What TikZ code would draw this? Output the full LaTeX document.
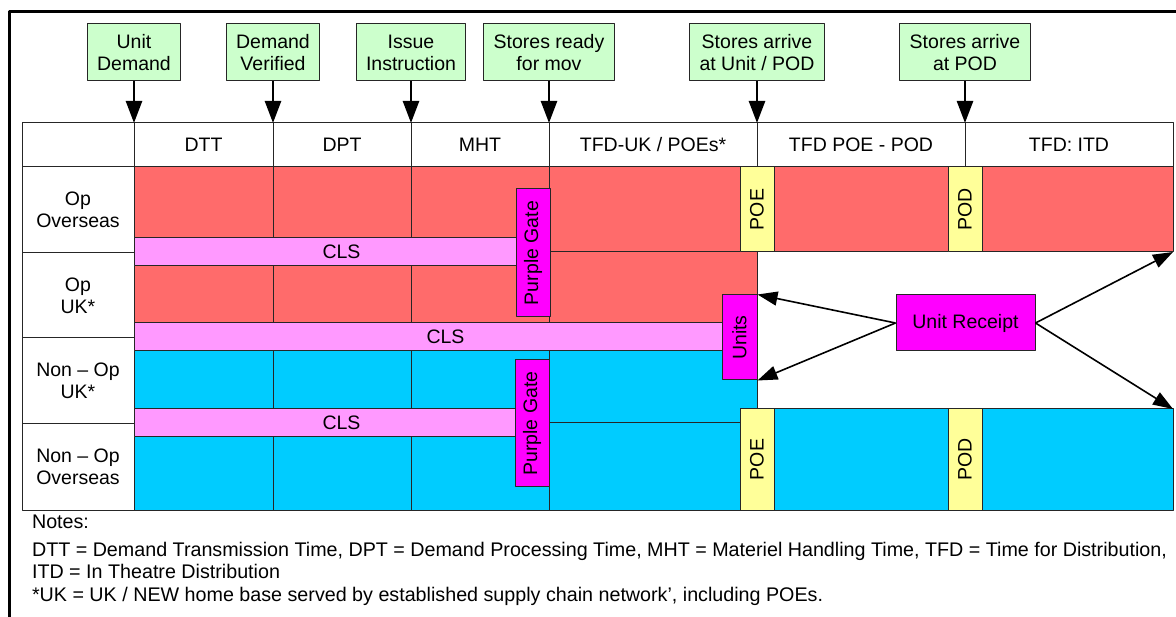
\documentclass[tikz,border=0pt]{standalone}
\usepackage{fontspec}
\setmainfont{Liberation Sans}
\usetikzlibrary{arrows.meta}
\definecolor{opred}{HTML}{FF6B6B}
\definecolor{nopblue}{HTML}{00CCFF}
\definecolor{clspink}{HTML}{FF99FF}
\definecolor{gatemag}{HTML}{FF00FF}
\definecolor{portyel}{HTML}{FFFF99}
\definecolor{eventgrn}{HTML}{CCFFCC}

\begin{document}
\begin{tikzpicture}[x=1pt, y=-1pt, line join=round,
  every node/.style={font=\fontsize{19.5}{22}\selectfont},
  lbl/.style={align=center},
  cell/.style={draw=black!85, line width=1pt},
  event/.style={cell, fill=eventgrn, align=center, minimum height=57pt, inner xsep=10pt, inner ysep=0pt},
  band/.style={cell, fill=clspink, inner sep=0pt, minimum height=28pt},
  gate/.style={cell, fill=gatemag, inner sep=0pt, rotate=90},
  port/.style={cell, fill=portyel, inner sep=0pt, rotate=90, minimum height=34pt},
  bigarrow/.style={line width=2.5pt, -{Triangle[length=22pt,width=16pt]}},
  thinarrow/.style={line width=1.6pt, -{Triangle[length=20pt,width=14pt]}}]

\useasboundingbox (0,0) rectangle (1176,617);
% outer frame
\draw[line width=3pt] (9,640) -- (9,12) -- (1200,12);

% header row
\draw[cell, fill=white] (22,123) rectangle (1173,167);
\foreach \x in {134,273,411,549,757,965} \draw[cell] (\x,123) -- (\x,167);
\node (hdtt) at (203.5,145) {DTT};
\node (hdpt) at (342,145) {DPT};
\node (hmht) at (480,145) {MHT};
\node (htfduk) at (653,145) {TFD-UK / POEs*};
\node (hpoepod) at (861,145) {TFD POE - POD};
\node (hitd) at (1069,145) {TFD: ITD};

% row labels
\draw[cell, fill=white] (22,167) rectangle (134,510);
\foreach \y in {253,338,424} \draw[cell] (22,\y) -- (134,\y);
\node[lbl] (rowopos) at (78,210) {Op\\Overseas};
\node[lbl] (rowopuk) at (78,295.5) {Op\\UK*};
\node[lbl] (rownopuk) at (78,381) {Non -- Op\\UK*};
\node[lbl] (rownopos) at (78,467) {Non -- Op\\Overseas};

% DTT, DPT, MHT cells
\foreach \xa/\xb in {134/273,273/411,411/549}{
  \draw[cell, fill=opred] (\xa,167) rectangle (\xb,238);
  \draw[cell, fill=opred] (\xa,266) rectangle (\xb,323);
  \draw[cell, fill=nopblue] (\xa,351) rectangle (\xb,409);
  \draw[cell, fill=nopblue] (\xa,437) rectangle (\xb,510);
}

% TFD cells
\draw[cell, fill=opred] (549,167) rectangle (1173,252);
\draw[cell, fill=opred] (549,252) rectangle (757,323);
\draw[cell, fill=nopblue] (549,351) rectangle (757,423);
\draw[cell, fill=nopblue] (549,423) rectangle (740,510);
\draw[cell, fill=nopblue] (740,409) rectangle (1173,510);
\coordinate (opend) at (1173,252);
\coordinate (nopend) at (1173,409);

% CLS bands
\node[band, minimum width=415pt] (cls1) at (341.5,252) {CLS};
\node[band, minimum width=623pt] (cls2) at (445.5,337) {CLS};
\node[band, minimum width=415pt] (cls3) at (341.5,423) {CLS};

% gates and ports
\node[gate, minimum width=128pt, minimum height=34pt] (gateop) at (533,253) {Purple Gate};
\node[gate, minimum width=127pt, minimum height=34pt] (gatenop) at (532,423.5) {Purple Gate};
\node[gate, minimum width=85pt, minimum height=35pt] (units) at (739.5,337.5) {Units};
\node[port, minimum width=85pt] (poeop) at (757,209.5) {POE};
\node[port, minimum width=85pt] (podop) at (965,209.5) {POD};
\node[port, minimum width=101pt] (poenop) at (757,459.5) {POE};
\node[port, minimum width=101pt] (podnop) at (965,459.5) {POD};

% unit receipt
\node[cell, fill=gatemag, minimum width=139pt, minimum height=56pt] (receipt) at (965.5,323) {Unit Receipt};
\draw[thinarrow] (receipt.west) -- (units.south east);
\draw[thinarrow] (receipt.west) -- (units.south west);
\draw[thinarrow] (receipt.east) -- (opend);
\draw[thinarrow] (receipt.east) -- (nopend);

% events
\node[event] (ud) at (134,52.5) {Unit\\Demand};
\node[event] (dv) at (273,52.5) {Demand\\Verified};
\node[event] (ii) at (411,52.5) {Issue\\Instruction};
\node[event] (sr) at (549,52.5) {Stores ready\\for mov};
\node[event] (sau) at (757,52.5) {Stores arrive\\at Unit / POD};
\node[event] (sap) at (965,52.5) {Stores arrive\\at POD};
\coordinate (tud) at (134,123);
\coordinate (tdv) at (273,123);
\coordinate (tii) at (411,123);
\coordinate (tsr) at (549,123);
\coordinate (tsau) at (757,123);
\coordinate (tsap) at (965,123);
\draw[bigarrow] (ud) -- (tud);
\draw[bigarrow] (dv) -- (tdv);
\draw[bigarrow] (ii) -- (tii);
\draw[bigarrow] (sr) -- (tsr);
\draw[bigarrow] (sau) -- (tsau);
\draw[bigarrow] (sap) -- (tsap);

% notes
\node[anchor=north west, align=left, font=\fontsize{19.7}{22.5}\selectfont] (notes) at (28.5,511) {Notes:\\[5.5pt]
DTT = Demand Transmission Time, DPT = Demand Processing Time, MHT = Materiel Handling Time, TFD = Time for Distribution,\\
ITD = In Theatre Distribution\\
*UK = UK / NEW home base served by established supply chain network’, including POEs.};
\end{tikzpicture}
\end{document}
